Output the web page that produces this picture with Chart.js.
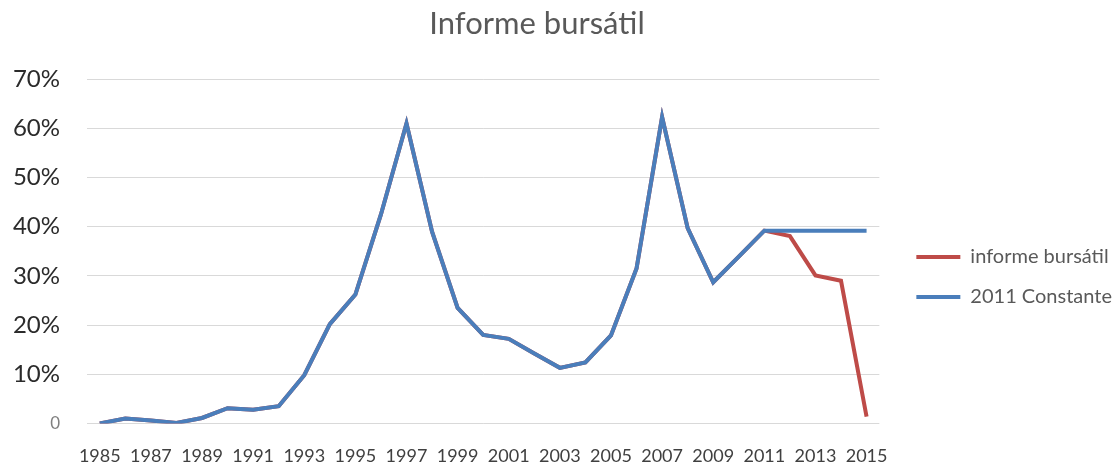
<!DOCTYPE html>
<html>
<head>
<meta charset="utf-8">
<script src="https://cdn.jsdelivr.net/npm/chart.js@4"></script>
<style>
  html, body { margin: 0; padding: 0; background: #fff; }
  #wrap { width: 1112px; height: 468px; }
</style>
</head>
<body>
<div id="wrap"><canvas id="stockChart"></canvas></div>
<script>
// Años 1985-2015
const years = ['1985', '1986', '1987', '1988', '1989', '1990', '1991', '1992', '1993', '1994',
    '1995', '1996', '1997', '1998', '1999', '2000', '2001', '2002', '2003', '2004',
    '2005', '2006', '2007', '2008', '2009', '2010', '2011', '2012', '2013', '2014', '2015'];

// Valores en %
const informe = [0, 1.0, 0.6, 0.1, 1.1, 3.1, 2.8, 3.5, 9.8, 20.2, 26.2, 42.5, 61.0, 39.0, 23.5, 18.0, 17.2, 14.2, 11.3, 12.4, 17.9, 31.5, 62.3, 39.7, 28.7, 33.9, 39.2, 38.1, 30.1, 29.0, 1.4];
const constante = [0, 1.0, 0.6, 0.1, 1.1, 3.1, 2.8, 3.5, 9.8, 20.2, 26.2, 42.5, 61.0, 39.0, 23.5, 18.0, 17.2, 14.2, 11.3, 12.4, 17.9, 31.5, 62.3, 39.7, 28.7, 33.9, 39.2, 39.2, 39.2, 39.2, 39.2];
const yTicks = [0, 10, 20, 30, 40, 50, 60, 70];

const font = "Lato, 'Open Sans', sans-serif";

// mueve la leyenda y el título un poco (como en Excel)
const legendShift = {
    id: 'legendShift',
    afterLayout(chart) {
        const lg = chart.legend;
        const dx = (chart.chartArea.right + 17) - lg.left;
        const dy = 43;
        lg.left += dx; lg.right += dx;
        lg.top += dy; lg.bottom += dy;
        const t = chart.titleBlock;
        if (t) { t.left = 0; t.right = 1074; t.width = 1074; }
    }
};

const ctx = document.getElementById('stockChart').getContext('2d');
new Chart(ctx, {
    type: 'line',
    data: {
        labels: years,
        datasets: [{
            label: 'informe bursátil',
            data: informe,
            borderColor: '#BE4B48',
            backgroundColor: '#BE4B48',
            borderWidth: 4,
            pointRadius: 0,
            tension: 0,
            order: 2
        }, {
            label: '2011 Constante',
            data: constante,
            borderColor: '#4A7EBB',
            backgroundColor: '#4A7EBB',
            borderWidth: 4,
            pointRadius: 0,
            tension: 0,
            order: 1
        }]
    },
    options: {
        responsive: true,
        maintainAspectRatio: false,
        animation: false,
        layout: { padding: { left: 0, right: 7, top: 0, bottom: 0 } },
        plugins: {
            title: {
                display: true,
                text: 'Informe bursátil',
                color: '#595959',
                font: { family: font, size: 31, weight: 'normal' },
                padding: { top: 5, bottom: 37 }
            },
            legend: {
                position: 'right',
                labels: {
                    boxWidth: 44,
                    boxHeight: 4,
                    padding: 20,
                    color: '#595959',
                    font: { family: font, size: 20 },
                    sort: (a, b) => a.datasetIndex - b.datasetIndex,
                    generateLabels: (chart) => {
                        const items = Chart.defaults.plugins.legend.labels.generateLabels(chart);
                        items.forEach(it => { it.lineWidth = 0; });
                        return items;
                    }
                }
            },
            tooltip: { enabled: false }
        },
        scales: {
            x: {
                offset: true,
                grid: { display: true, drawOnChartArea: false, drawTicks: true, tickLength: 21, color: 'rgba(0,0,0,0)' },
                border: { display: false },
                ticks: {
                    autoSkip: false,
                    maxRotation: 0,
                    padding: 1,
                    color: '#404040',
                    font: { family: font, size: 18 },
                    callback: function (v, i) { return i % 2 === 0 ? this.getLabelForValue(v) : ''; }
                }
            },
            y: {
                min: 0,
                max: 70,
                afterBuildTicks: (axis) => { axis.ticks = yTicks.map(v => ({ value: v })); },
                afterFit: (axis) => { axis.width = 87; },
                grid: { color: '#D9D9D9', lineWidth: 1, drawTicks: false },
                border: { display: false },
                ticks: {
                    padding: 27,
                    color: (c) => c.tick && c.tick.value === 0 ? '#808080' : '#2B2B2B',
                    font: (c) => ({ family: font, size: c.tick && c.tick.value === 0 ? 17 : 24 }),
                    callback: (v) => v === 0 ? '0' : v + '%'
                }
            }
        }
    },
    plugins: [legendShift]
});
</script>
</body>
</html>
